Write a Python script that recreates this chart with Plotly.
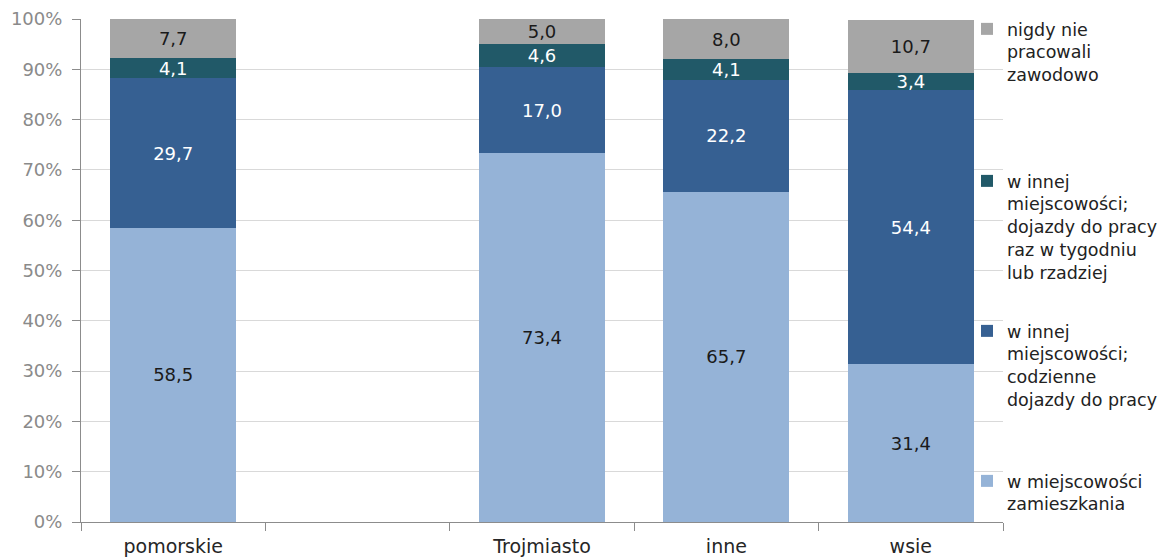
import plotly.graph_objects as go

categories = ["pomorskie", " ", "Trojmiasto", "inne", "wsie"]
w_miejscowosci = [58.5, None, 73.4, 65.7, 31.4]
codzienne = [29.7, None, 17.0, 22.2, 54.4]
tygodniowo = [4.1, None, 4.6, 4.1, 3.4]
nigdy = [7.7, None, 5.0, 8.0, 10.7]

series_names = [
    "w miejscowości<br>zamieszkania",
    "w innej<br>miejscowości;<br>codzienne<br>dojazdy do pracy",
    "w innej<br>miejscowości;<br>dojazdy do pracy<br>raz w tygodniu<br>lub rzadziej",
    "nigdy nie<br>pracowali<br>zawodowo",
]
series_values = [w_miejscowosci, codzienne, tygodniowo, nigdy]
colors = ["#95B3D7", "#366092", "#215968", "#A6A6A6"]
text_colors = ["#1a1a1a", "#ffffff", "#ffffff", "#1a1a1a"]
legend_ids = ["legend4", "legend3", "legend2", "legend"]
yticks = list(range(0, 101, 10))
ytick_text = [f"{v}%" for v in yticks]

FONT = "DejaVu Sans"
W, H = 1162, 552

fig = go.Figure()
for name, vals, col, tcol, lid in zip(series_names, series_values, colors, text_colors, legend_ids):
    fig.add_trace(go.Bar(
        x=categories, y=vals, name=name,
        marker=dict(color=col, line=dict(width=0)),
        texttemplate="%{y:.1f}", textposition="inside",
        insidetextanchor="middle", textangle=0,
        textfont=dict(family=FONT, size=18, color=tcol),
        legend=lid,
    ))

leg_common = dict(
    font=dict(family=FONT, size=17.5, color="#222222"),
    bgcolor="rgba(0,0,0,0)", x=959 / W, xref="container", yref="container",
    xanchor="left", yanchor="top",
    valign="top", itemclick=False,
)

fig.update_layout(
    barmode="stack",
    bargap=0.317,
    width=W, height=H,
    margin=dict(l=73, r=167, t=11, b=38, autoexpand=False),
    plot_bgcolor="white", paper_bgcolor="white",
    separators=", ",
    uniformtext=dict(minsize=18, mode="show"),
    font=dict(family=FONT),
    xaxis=dict(
        type="category", categoryorder="array", categoryarray=categories,
        range=[-0.5, 4.5], automargin=False,
        showline=True, linecolor="#8c8c8c", linewidth=1,
        ticks="outside", tickson="boundaries", ticklen=8, tickcolor="#8c8c8c",
        ticklabelstandoff=7,
        tickfont=dict(family=FONT, size=19, color="#262626"),
        showgrid=False,
    ),
    yaxis=dict(
        range=[0, 100], tickvals=yticks, ticktext=ytick_text,
        automargin=False, ticklabeloverflow="allow",
        showline=True, linecolor="#8c8c8c", linewidth=1,
        ticks="outside", ticklen=8, tickcolor="#8c8c8c",
        ticklabelstandoff=6,
        tickfont=dict(family=FONT, size=18, color="#8a8a8a"),
        showgrid=True, gridcolor="#d9d9d9", gridwidth=1,
        zeroline=False,
    ),
    showlegend=True,
    legend=dict(y=1 - 3 / H, **leg_common),
    legend2=dict(y=1 - 155 / H, **leg_common),
    legend3=dict(y=1 - 305 / H, **leg_common),
    legend4=dict(y=1 - 455 / H, **leg_common),
)

fig.write_html("out.html")
